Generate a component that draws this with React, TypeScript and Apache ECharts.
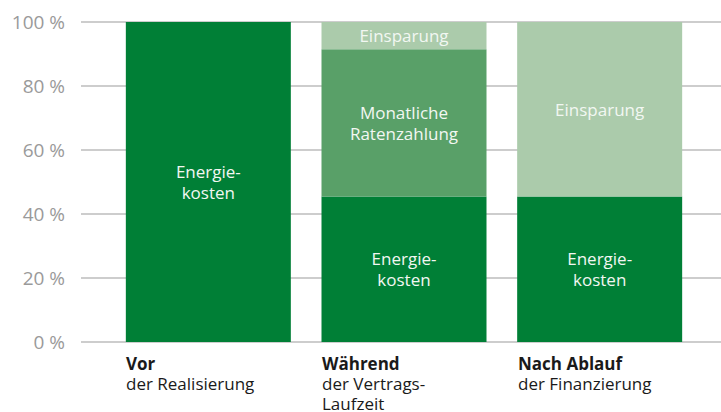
import React, { useEffect, useRef } from "react";
import * as echarts from "echarts";

const categoriesBold = ["Vor", "Während", "Nach Ablauf"];
const categoriesSub = ["der Realisierung", "der Vertrags-\nLaufzeit", "der Finanzierung"];
const energiekosten = [100, 45.5, 45.5];
const ratenzahlung = [null, 46, null];
const einsparung = [null, 8.5, 54.5];
const yTicks = [0, 20, 40, 60, 80, 100];

const FONT = "'Open Sans', sans-serif";
const TOP = 22;
const BOTTOM = 70;

export default function App() {
  const ref = useRef<HTMLDivElement>(null);
  useEffect(() => {
    if (!ref.current) return;
    const chart = echarts.init(ref.current, null, { renderer: "svg" });
    const catKeys = categoriesBold.map((_, i) => String(i));
    const insideLabel = (text: string) => ({
      show: true,
      position: "inside" as const,
      formatter: text,
      color: "#f2f7f2",
      fontFamily: FONT,
      fontSize: 17,
      lineHeight: 21,
    });
    chart.setOption({
      animation: false,
      grid: [
        { left: 81, right: 0, top: TOP, bottom: BOTTOM },
        { left: 110.5, width: 587, top: TOP, bottom: BOTTOM },
        { left: 126, width: 392, top: TOP, bottom: BOTTOM },
      ],
      xAxis: [
        { gridIndex: 0, type: "value", show: false, min: 0, max: 1 },
        {
          gridIndex: 1,
          type: "category",
          data: catKeys,
          axisLine: { show: false },
          axisTick: { show: false },
          axisLabel: { show: false },
        },
        {
          gridIndex: 2,
          type: "category",
          data: catKeys,
          boundaryGap: false,
          axisLine: { show: false },
          axisTick: { show: false },
          axisLabel: {
            show: true,
            interval: 0,
            align: "left",
            verticalAlign: "top",
            margin: 11,
            formatter: (v: string) => {
              const i = Number(v);
              return `{b|${categoriesBold[i]}}\n{n|${categoriesSub[i].split("\n").join("}\n{n|")}}`;
            },
            rich: {
              b: { fontFamily: FONT, fontSize: 17, fontWeight: "bold", color: "#1a1a1a", lineHeight: 20 },
              n: { fontFamily: FONT, fontSize: 17, color: "#1a1a1a", lineHeight: 20 },
            },
          },
        },
      ],
      yAxis: [
        {
          gridIndex: 0,
          type: "value",
          min: 0,
          max: 100,
          interval: 20,
          axisLine: { show: false },
          axisTick: { show: false },
          axisLabel: {
            margin: 16,
            color: "#9a9a9a",
            fontFamily: FONT,
            fontSize: 19,
            formatter: (v: number) => (yTicks.includes(v) ? `${v} %` : ""),
          },
          splitLine: { show: true, lineStyle: { color: "#bdbdbd", width: 1.5 } },
        },
        { gridIndex: 1, type: "value", min: 0, max: 100, show: false },
        { gridIndex: 2, type: "value", min: 0, max: 100, show: false },
      ],
      series: [
        {
          type: "bar",
          xAxisIndex: 1,
          yAxisIndex: 1,
          stack: "s",
          barWidth: 165,
          data: energiekosten,
          itemStyle: { color: "#007f36" },
          label: insideLabel("Energie-\nkosten"),
        },
        {
          type: "bar",
          xAxisIndex: 1,
          yAxisIndex: 1,
          stack: "s",
          barWidth: 165,
          data: ratenzahlung,
          itemStyle: { color: "#59a068" },
          label: insideLabel("Monatliche\nRatenzahlung"),
        },
        {
          type: "bar",
          xAxisIndex: 1,
          yAxisIndex: 1,
          stack: "s",
          barWidth: 165,
          data: einsparung,
          itemStyle: { color: "#abcbab" },
          label: insideLabel("Einsparung"),
        },
      ],
    });
    return () => chart.dispose();
  }, []);
  return <div ref={ref} style={{ width: 721, height: 412, position: "absolute", left: 0, top: 0 }} />;
}
